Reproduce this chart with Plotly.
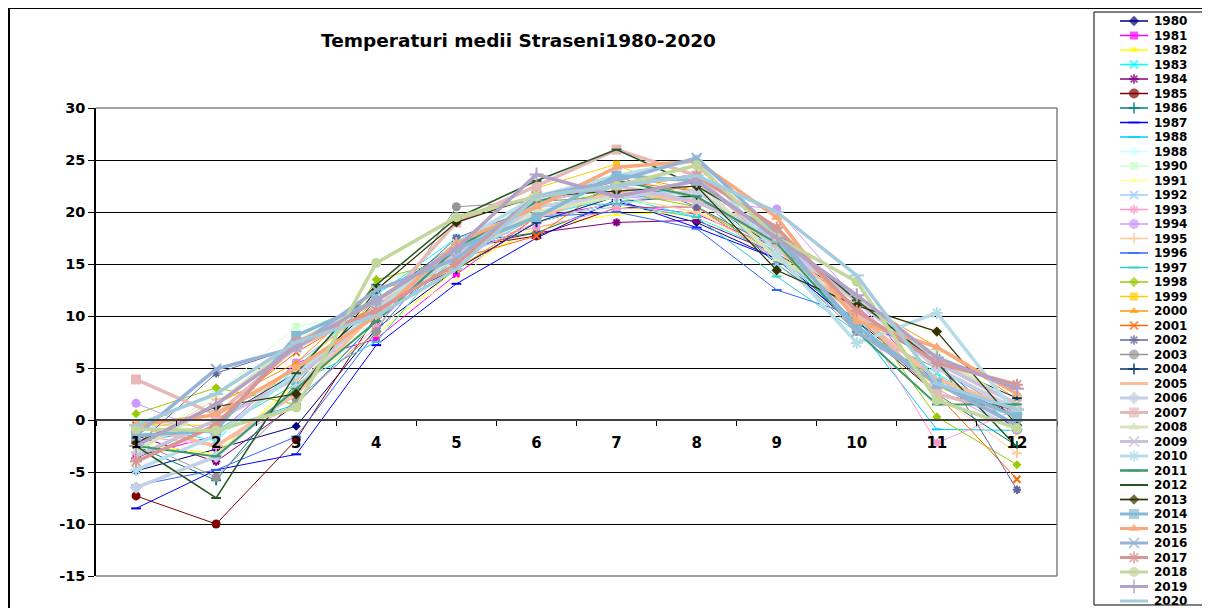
import plotly.graph_objects as go

months = ["1", "2", "3", "4", "5", "6", "7", "8", "9", "10", "11", "12"]
y_tick_values = [-15, -10, -5, 0, 5, 10, 15, 20, 25, 30]
y_tick_labels = ["-15", "-10", "-5", "0", "5", "10", "15", "20", "25", "30"]
years = ["1980", "1981", "1982", "1983", "1984", "1985", "1986", "1987", "1988", "1988",
         "1990", "1991", "1992", "1993", "1994", "1995", "1996", "1997", "1998", "1999",
         "2000", "2001", "2002", "2003", "2004", "2005", "2006", "2007", "2008", "2009",
         "2010", "2011", "2012", "2013", "2014", "2015", "2016", "2017", "2018", "2019", "2020"]

t1980 = [-4.9, -2.8, -0.6, 8.8, 14.5, 19.0, 21.0, 19.0, 15.5, 9.5, 3.5, 0.5]
t1981 = [-3.5, -1.5, 5.5, 7.8, 14.0, 19.5, 20.8, 19.8, 16.5, 11.0, 3.5, 0.8]
t1982 = [-2.5, -3.2, 3.5, 8.2, 14.5, 18.5, 19.8, 20.0, 17.0, 9.8, 3.0, 1.5]
t1983 = [-0.5, -2.0, 5.0, 12.0, 17.5, 19.5, 21.5, 19.5, 16.0, 9.5, 4.5, -0.5]
t1984 = [-1.5, -4.0, 1.5, 9.5, 16.5, 18.0, 19.0, 19.2, 16.0, 11.5, 5.0, -1.0]
t1985 = [-7.3, -10.0, -1.9, 10.0, 16.5, 17.7, 20.4, 20.5, 15.5, 9.0, 2.5, 1.0]
t1986 = [-2.5, -5.8, 3.5, 11.5, 17.0, 18.0, 21.0, 21.5, 15.0, 9.5, 2.5, -2.5]
t1987 = [-8.5, -4.8, -3.3, 7.2, 13.1, 17.5, 21.2, 18.5, 15.5, 9.0, 3.5, 0.5]
t1988 = [-1.5, -1.0, 1.5, 9.5, 15.5, 19.5, 22.5, 21.5, 16.0, 9.0, -0.9, -1.0]
t1988b = [0.5, -1.5, 2.0, 10.0, 17.0, 20.5, 22.0, 21.0, 16.5, 10.5, 5.0, 0.0]
t1990 = [-2.5, 2.5, 9.0, 10.5, 15.5, 19.0, 21.0, 20.5, 16.5, 10.0, 6.5, 1.5]
t1991 = [-2.0, -3.5, 4.0, 9.0, 13.5, 19.5, 20.5, 19.5, 16.5, 10.0, 5.0, -1.5]
t1992 = [-1.0, 0.5, 4.5, 10.5, 15.5, 19.5, 20.5, 23.0, 15.0, 9.0, 3.5, -1.0]
t1993 = [-1.5, -2.5, 1.5, 9.0, 17.0, 18.5, 20.3, 20.5, 15.5, 10.5, -2.2, 1.0]
t1994 = [1.6, -1.5, 5.5, 11.0, 15.5, 19.0, 21.5, 21.0, 20.3, 11.5, 3.0, -1.0]
t1995 = [-2.5, 2.0, 4.0, 10.0, 16.5, 21.0, 21.5, 20.0, 16.0, 10.0, 2.5, -3.2]
t1996 = [-6.3, -4.8, -1.6, 8.5, 17.0, 19.5, 20.0, 18.4, 12.5, 10.0, 5.5, -1.0]
t1997 = [-2.0, -1.0, 3.5, 7.5, 16.5, 20.5, 20.8, 19.5, 13.8, 8.5, 4.0, -0.5]
t1998 = [0.6, 3.1, 1.5, 13.5, 15.5, 20.5, 22.0, 20.5, 16.0, 11.0, 0.3, -4.3]
t1999 = [-0.5, -0.5, 5.0, 11.5, 14.5, 22.3, 24.6, 21.0, 18.5, 10.5, 3.5, 1.0]
t2000 = [-2.5, 1.5, 5.5, 12.5, 14.5, 19.5, 23.8, 22.0, 16.5, 11.5, 7.0, 2.0]
t2001 = [-0.5, 0.5, 6.5, 11.0, 15.5, 17.7, 23.0, 22.0, 17.0, 10.0, 2.5, -5.7]
t2002 = [-2.5, 4.5, 7.0, 10.5, 17.5, 20.5, 23.5, 20.5, 16.5, 10.0, 6.0, -6.7]
t2003 = [-2.0, -5.5, 2.0, 8.5, 20.5, 21.0, 21.5, 22.5, 15.5, 8.5, 5.0, 0.5]
t2004 = [-3.7, 0.0, 4.5, 11.0, 14.5, 19.0, 21.5, 21.5, 16.5, 11.5, 5.5, 2.1]
t2005 = [-0.5, -2.5, 2.5, 10.5, 16.5, 19.5, 22.0, 21.0, 17.5, 10.0, 4.0, 1.0]
t2006 = [-6.5, -3.5, 3.0, 11.0, 15.5, 20.5, 21.5, 22.0, 17.0, 11.5, 5.0, 1.0]
t2007 = [3.9, 0.5, 7.0, 10.5, 19.0, 22.5, 26.0, 23.5, 16.5, 10.5, 2.5, 0.5]
t2008 = [-3.0, 1.5, 7.5, 11.5, 15.5, 20.0, 21.5, 23.0, 15.5, 11.5, 6.0, 1.5]
t2009 = [-3.5, 0.0, 4.0, 10.5, 16.0, 21.0, 22.5, 21.0, 17.5, 11.5, 5.5, 1.5]
t2010 = [-4.8, -1.5, 4.5, 10.5, 17.0, 21.5, 23.5, 25.0, 16.0, 7.4, 10.3, 0.5]
t2011 = [-2.5, -3.5, 3.0, 9.5, 16.5, 21.0, 23.0, 21.5, 17.0, 8.5, 1.5, 1.5]
t2012 = [-2.5, -7.5, 4.5, 13.0, 19.4, 23.0, 26.0, 22.5, 18.0, 11.5, 5.5, -2.6]
t2013 = [-2.2, 1.3, 2.5, 12.5, 19.0, 21.5, 22.0, 22.5, 14.4, 11.0, 8.5, -0.5]
t2014 = [-1.5, -1.0, 8.1, 11.5, 16.5, 19.5, 23.5, 23.0, 17.5, 9.0, 3.5, 0.3]
t2015 = [-0.5, 0.5, 5.0, 10.0, 17.0, 20.5, 24.3, 24.9, 19.5, 9.5, 7.0, 2.5]
t2016 = [-1.5, 4.9, 7.0, 12.5, 15.5, 21.5, 23.0, 25.2, 18.0, 8.5, 3.5, -0.5]
t2017 = [-4.0, -0.5, 7.5, 10.5, 15.0, 21.5, 22.5, 23.5, 18.5, 10.5, 5.5, 3.4]
t2018 = [-0.9, -1.0, 1.2, 15.1, 19.5, 21.5, 22.5, 24.5, 17.6, 13.3, 1.9, -0.8]
t2019 = [-2.5, 1.5, 7.0, 11.5, 16.5, 23.6, 21.5, 23.0, 17.5, 12.0, 6.0, 3.0]
t2020 = [-0.5, 2.5, 7.5, 10.0, 14.5, 21.5, 22.5, 23.5, 20.0, 13.9, 3.5, 1.0]

series = [t1980, t1981, t1982, t1983, t1984, t1985, t1986, t1987, t1988, t1988b,
          t1990, t1991, t1992, t1993, t1994, t1995, t1996, t1997, t1998, t1999,
          t2000, t2001, t2002, t2003, t2004, t2005, t2006, t2007, t2008, t2009,
          t2010, t2011, t2012, t2013, t2014, t2015, t2016, t2017, t2018, t2019, t2020]

colors = ["#000080", "#FF00FF", "#FFFF00", "#00FFFF", "#800080", "#800000", "#008080", "#0000FF",
          "#00CCFF", "#CCFFFF", "#CCFFCC", "#FFFF99", "#99CCFF", "#FF99CC", "#CC99FF", "#FFCC99",
          "#3366FF", "#33CCCC", "#99CC00", "#FFCC00", "#FF9900", "#FF6600", "#666699", "#969696",
          "#003366", "#F9BE9E", "#C5D0E6", "#E6B9B8", "#D7E4BD", "#CCC1DA", "#B7DEE8", "#3A9A6A",
          "#245824", "#333300", "#84BAD3", "#F9A97A", "#95B3D7", "#D99694", "#C3D69B", "#B3A2C7",
          "#A5CCDC"]

D, S, T, X, A, C, P, L = ("diamond", "square", "triangle-up", "x-thin-open", "asterisk-open",
                          "circle", "cross-thin-open", "line-ew-open")
symbols = [D, S, T, X, A, C, P, L, L, D,
           S, T, X, A, C, P, L, L, D, S,
           T, X, A, C, P, L, D, S, T, X,
           A, L, L, D, S, T, X, A, C, P, L]

widths = [1] * 25 + [3.5] * 6 + [2, 1.5, 1.2] + [3.5] * 7
msizes = [7] * 25 + [10] * 6 + [7, 7, 8] + [10] * 7
msizes = [max(s, 9) if sym == C else s for s, sym in zip(msizes, symbols)]

# The page is shown with the browser's default 8px body margin; work in screen pixels.
OFF = 8
W, H = 1210 - OFF, 608 - OFF


def px_x(v):
    return (v - OFF) / W


def px_y(v):
    return 1 - (v - OFF) / H


fig = go.Figure()

for i, (yr, vals) in enumerate(zip(years, series)):
    sym = symbols[i]
    is_open = sym.endswith("open")
    fig.add_trace(go.Scatter(
        x=months, y=vals, mode="lines+markers", name=yr, showlegend=False,
        line=dict(color=colors[i], width=widths[i]),
        marker=dict(symbol=sym, size=msizes[i], color=colors[i],
                    line=dict(color=colors[i], width=2 if is_open else 0)),
        xaxis="x", yaxis="y"))

# custom legend drawn on a screen-pixel overlay axis
leg_y0, leg_dy = 21, 14.5
annotations = []
for i, yr in enumerate(years):
    yy = leg_y0 + leg_dy * i
    sym = symbols[i]
    is_open = sym.endswith("open")
    fig.add_trace(go.Scatter(
        x=[1120, 1134, 1148], y=[yy, yy, yy], mode="lines+markers", showlegend=False,
        line=dict(color=colors[i], width=min(widths[i] + 0.5, 3)),
        marker=dict(symbol=sym, size=[0, 8 if msizes[i] <= 8 else 10, 0], color=colors[i],
                    line=dict(color=colors[i], width=2 if is_open else 0)),
        xaxis="x2", yaxis="y2", hoverinfo="skip"))
    annotations.append(dict(x=1152, y=yy, xref="x2", yref="y2", text=yr, showarrow=False,
                            xanchor="left", yanchor="middle",
                            font=dict(family="DejaVu Sans", size=12, color="black", weight="bold")))

annotations.append(dict(x=518, y=40, xref="x2", yref="y2", text="Temperaturi medii Straseni1980-2020",
                        showarrow=False, xanchor="center", yanchor="middle",
                        font=dict(family="DejaVu Sans", size=18.5, color="black", weight="bold")))

shapes = [
    dict(type="line", xref="x2", yref="y2", x0=OFF, x1=1210, y0=8, y1=8, line=dict(color="black", width=2)),
    dict(type="line", xref="x2", yref="y2", x0=9, x1=9, y0=8, y1=608, line=dict(color="black", width=2)),
    dict(type="rect", xref="x2", yref="y2", x0=1094, x1=1205, y0=12, y1=605, line=dict(color="black", width=1)),
    dict(type="line", xref="x2", yref="y2", x0=96, x1=1057, y0=108, y1=108,
         line=dict(color="#808080", width=1.5), layer="above"),
    dict(type="line", xref="x2", yref="y2", x0=96, x1=1057, y0=576, y1=576,
         line=dict(color="#808080", width=1.5), layer="above"),
    dict(type="line", xref="x2", yref="y2", x0=1057, x1=1057, y0=108, y1=576,
         line=dict(color="#808080", width=1.5), layer="above"),
]

fig.update_layout(
    width=W, height=H, margin=dict(l=0, r=0, t=0, b=0),
    paper_bgcolor="white", plot_bgcolor="rgba(0,0,0,0)",
    showlegend=False, annotations=annotations, shapes=shapes,
    xaxis=dict(domain=[px_x(96), px_x(1057)], type="category", categoryorder="array", categoryarray=months,
               range=[-0.5, 11.5], anchor="free", position=px_y(420),
               showline=True, linecolor="#404040", linewidth=1.5,
               ticks="outside", ticklen=5, tickcolor="black", tickson="boundaries",
               ticklabelstandoff=9,
               showgrid=False, zeroline=False, automargin=False, fixedrange=True,
               tickfont=dict(family="DejaVu Sans", size=15, color="black", weight="bold")),
    yaxis=dict(domain=[px_y(576), px_y(108)], range=[-15, 30],
               tickmode="array", tickvals=y_tick_values, ticktext=y_tick_labels,
               showline=True, linecolor="black", linewidth=1.5,
               ticks="outside", ticklen=6, tickcolor="black",
               showgrid=True, gridcolor="black", gridwidth=1, zeroline=False,
               automargin=False, fixedrange=True,
               tickfont=dict(family="DejaVu Sans", size=14.5, color="black", weight="bold")),
    xaxis2=dict(domain=[0, 1], range=[OFF, OFF + W], visible=False, anchor="y2", fixedrange=True),
    yaxis2=dict(domain=[0, 1], range=[OFF + H, OFF], visible=False, anchor="x2", fixedrange=True),
)

fig.write_html("out.html")
